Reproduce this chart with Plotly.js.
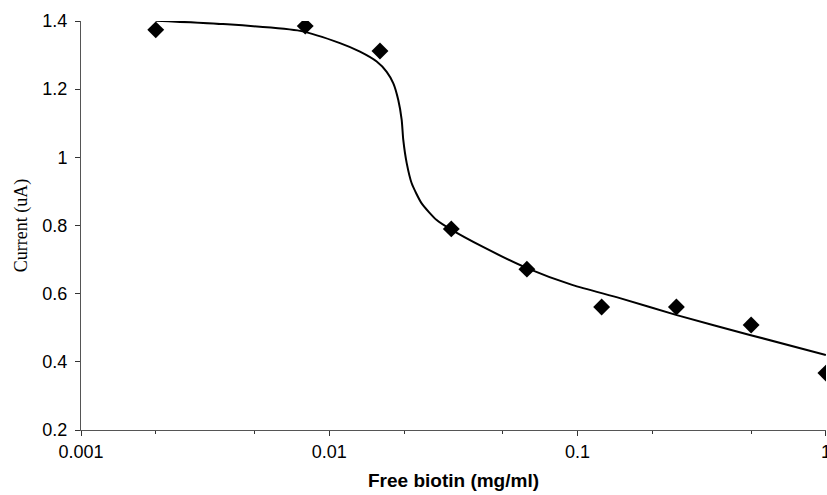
<!DOCTYPE html>
<html><head><meta charset="utf-8">
<script src="https://cdn.plot.ly/plotly-3.0.1.min.js"></script>
<style>html,body{margin:0;padding:0;background:#fff}</style>
</head><body><div id="chart" style="width:827px;height:495px"></div>
<script>
const conc = [0.002, 0.008, 0.016, 0.031, 0.0625, 0.125, 0.25, 0.5, 1];
const current = [1.374, 1.385, 1.312, 0.79, 0.672, 0.561, 0.561, 0.508, 0.367];
const fitX = [0.002, 0.00373, 0.00763, 0.01104, 0.01329, 0.01552, 0.01703, 0.01811, 0.01896, 0.01957, 0.01986, 0.0205, 0.02147, 0.02355, 0.02707, 0.03111, 0.0416, 0.0625, 0.0957, 0.148, 0.251, 0.494, 1];
const fitY = [1.401, 1.391, 1.371, 1.335, 1.310, 1.281, 1.251, 1.217, 1.168, 1.110, 1.051, 0.983, 0.924, 0.865, 0.816, 0.787, 0.737, 0.675, 0.625, 0.587, 0.537, 0.479, 0.42];
const yTicks = [0.2, 0.4, 0.6, 0.8, 1, 1.2, 1.4];
const yTickText = ['0.2', '0.4', '0.6', '0.8', '1', '1.2', '1.4'];
const xTicks = [0.001, 0.01, 0.1, 1];
const xTickText = ['0.001', '0.01', '0.1', '1'];

Plotly.newPlot('chart', [
  {x: fitX, y: fitY, mode: 'lines', line: {color: '#000', width: 2, shape: 'spline', smoothing: 0.6}, hoverinfo: 'skip'},
  {x: conc, y: current, mode: 'markers', marker: {symbol: 'diamond', size: 13, color: '#000'}}
], {
  width: 827, height: 495,
  margin: {l: 81, r: 1, t: 21, b: 65},
  paper_bgcolor: '#fff', plot_bgcolor: '#fff',
  showlegend: false,
  font: {family: 'Liberation Sans, Arial, sans-serif', color: '#000'},
  xaxis: {
    type: 'log', range: [-3, 0.0005], showgrid: false, zeroline: false,
    showline: true, linecolor: '#555', linewidth: 1,
    tickvals: xTicks, ticktext: xTickText, ticklabeloverflow: 'allow',
    ticks: 'outside', ticklen: 5, tickcolor: '#333',
    minor: {ticks: 'outside', ticklen: 3, tickcolor: '#333', dtick: 'D2', showgrid: false},
    tickfont: {size: 18, family: 'Liberation Sans, Arial, sans-serif'},
    title: {text: '<b>Free biotin (mg/ml)</b>', font: {size: 19, family: 'Liberation Sans, Arial, sans-serif'}, standoff: 13}
  },
  yaxis: {
    range: [0.2, 1.4], showgrid: false, zeroline: false,
    showline: true, linecolor: '#555', linewidth: 1,
    tickvals: yTicks, ticktext: yTickText,
    ticks: 'outside', ticklen: 5, tickcolor: '#333', ticklabelstandoff: 4,
    tickfont: {size: 18, family: 'Liberation Sans, Arial, sans-serif'},
    title: {text: 'Current (uA)', font: {size: 18, family: 'Liberation Serif, Times New Roman, serif'}, standoff: 10}
  }
}, {displayModeBar: false, staticPlot: true});
</script></body></html>
